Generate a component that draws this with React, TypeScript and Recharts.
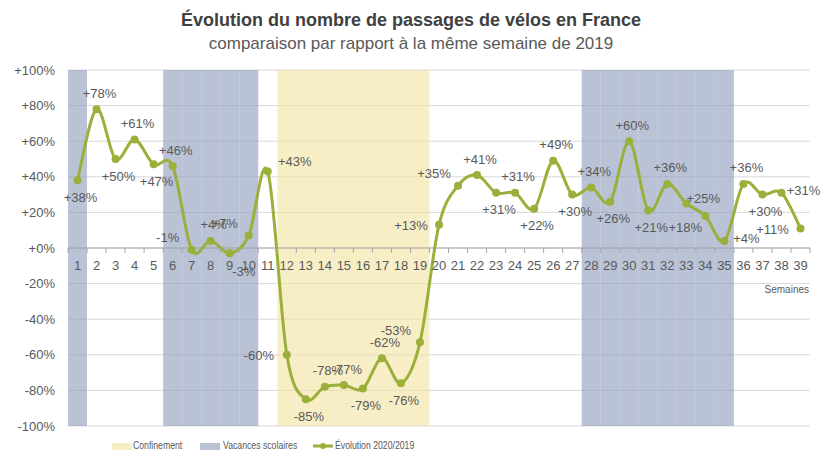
import React from "react";
import {
  Bar,
  CartesianGrid,
  ComposedChart,
  LabelList,
  Line,
  ReferenceLine,
  XAxis,
  YAxis,
} from "recharts";

const weeks = ["1", "2", "3", "4", "5", "6", "7", "8", "9", "10", "11", "12", "13", "14", "15", "16", "17", "18", "19", "20",
  "21", "22", "23", "24", "25", "26", "27", "28", "29", "30", "31", "32", "33", "34", "35", "36", "37", "38", "39"];

const evolution = [38, 78, 50, 61, 47, 46, -1, 4, -3, 7, 43, -60, -85, -78, -77, -79, -62, -76, -53, 13,
  35, 41, 31, 31, 22, 49, 30, 34, 26, 60, 21, 36, 25, 18, 4, 36, 30, 31, 11];

const confinementWeeks = ["12", "13", "14", "15", "16", "17", "18", "19"];
const vacancesWeeks = ["1", "6", "7", "8", "9", "10", "28", "29", "30", "31", "32", "33", "34", "35"];

const yTicks = [-100, -80, -60, -40, -20, 0, 20, 40, 60, 80, 100];

// where each data label sits around its point
const labelPlacement = ["b", "t", "b", "t", "b", "t", "tl", "t", "br", "tl", "rt", "l", "b", "t", "t", "b", "t", "b", "tl", "l",
  "tl", "t", "b", "t", "b", "t", "b", "t", "b", "t", "b", "t", "rs", "bl", "r", "t", "b", "r", "l"];

const W = 822;
const H = 452;
const MARGIN = { top: 70, right: 12, bottom: 25, left: 0 };
const Y_AXIS_W = 68;
const PLOT_H = H - MARGIN.top - MARGIN.bottom - 1;
const BAND = (W - MARGIN.right - Y_AXIS_W) / weeks.length;

const GREEN = "#9BAF3B";
const BLUE = "#8C9BBB";
const YELLOW = "#F2E3A0";
const TEXT = "#595959";
const FONT = "'Liberation Sans', Arial, sans-serif";

const data = weeks.map((w, i) => ({
  week: w,
  evolution: evolution[i],
  conf: confinementWeeks.includes(w) ? 1 : 0,
  vac: vacancesWeeks.includes(w) ? 1 : 0,
}));

// Excel-like smoothed line (cardinal spline, tension 0)
function excelCurve(context: any) {
  let pts: number[][] = [];
  return {
    areaStart() {},
    areaEnd() {},
    lineStart() {
      pts = [];
    },
    point(x: number, y: number) {
      pts.push([+x, +y]);
    },
    lineEnd() {
      if (!pts.length) return;
      context.moveTo(pts[0][0], pts[0][1]);
      for (let i = 0; i < pts.length - 1; i++) {
        const p0 = pts[Math.max(0, i - 1)];
        const p1 = pts[i];
        const p2 = pts[i + 1];
        const p3 = pts[Math.min(pts.length - 1, i + 2)];
        context.bezierCurveTo(
          p1[0] + (p2[0] - p0[0]) / 6,
          p1[1] + (p2[1] - p0[1]) / 6,
          p2[0] - (p3[0] - p1[0]) / 6,
          p2[1] - (p3[1] - p1[1]) / 6,
          p2[0],
          p2[1]
        );
      }
    },
  };
}

const offsets: Record<string, [number, number]> = {
  t: [3, -16],
  b: [3, 17],
  l: [-28, 1],
  r: [22, -2],
  rt: [27, -10],
  rs: [17, -5],
  tl: [-24, -12],
  br: [14, 18],
  bl: [-20, 12],
};

const fmt = (v: number) => (v >= 0 ? `+${v}%` : `${v}%`);

function PointLabel(props: any) {
  const { x, y, value, index } = props;
  const [dx, dy] = offsets[labelPlacement[index]] || [0, -16];
  return (
    <text
      x={x + dx}
      y={y + dy}
      textAnchor="middle"
      dominantBaseline="central"
      fontSize={13}
      fontFamily={FONT}
      fill={TEXT}
    >
      {fmt(value)}
    </text>
  );
}

function WeekTick(props: any) {
  const { x, y, payload, index } = props;
  const zeroY = y - PLOT_H / 2;
  const last = index === weeks.length - 1;
  return (
    <g>
      <line x1={x - BAND / 2} x2={x - BAND / 2} y1={zeroY} y2={zeroY + 5} stroke="#A6A6A6" />
      {last && <line x1={x + BAND / 2} x2={x + BAND / 2} y1={zeroY} y2={zeroY + 5} stroke="#A6A6A6" />}
      <text x={x} y={zeroY + 17} textAnchor="middle" dominantBaseline="central" fontSize={13} fontFamily={FONT} fill={TEXT}>
        {payload.value}
      </text>
    </g>
  );
}

const legendText: React.CSSProperties = {
  position: "absolute",
  top: 439,
  fontSize: 11,
  color: TEXT,
  whiteSpace: "nowrap",
  transform: "scaleX(0.79)",
  transformOrigin: "left center",
};

export default function App() {
  return (
    <div style={{ position: "absolute", left: 0, top: 0, width: W, height: H, background: "#fff", fontFamily: FONT }}>
      <div style={{ position: "absolute", left: 0, top: 10, width: W, textAlign: "center", fontSize: 18, fontWeight: "bold", color: "#404040" }}>
        Évolution du nombre de passages de vélos en France
      </div>
      <div style={{ position: "absolute", left: 0, top: 34, width: W, textAlign: "center", fontSize: 17, color: TEXT }}>
        comparaison par rapport à la même semaine de 2019
      </div>
      <ComposedChart width={W} height={H} data={data} margin={MARGIN} barCategoryGap={0} barGap={0}>
        <CartesianGrid yAxisId="pct" vertical={false} stroke="#D9D9D9" />
        <YAxis
          yAxisId="pct"
          width={Y_AXIS_W}
          domain={[-100, 100]}
          ticks={yTicks}
          interval={0}
          tickFormatter={fmt}
          axisLine={false}
          tickLine={false}
          tickMargin={7}
          tick={{ fontSize: 13, fill: TEXT, fontFamily: FONT }}
        />
        <YAxis yAxisId="band" orientation="right" hide domain={[0, 1]} />
        <XAxis
          dataKey="week"
          height={1}
          interval={0}
          axisLine={false}
          tickLine={false}
          tickSize={0}
          tickMargin={0}
          tick={<WeekTick />}
        />
        <Bar yAxisId="band" dataKey="conf" name="Confinement" stackId="s" fill={YELLOW} fillOpacity={0.6} isAnimationActive={false} />
        <Bar yAxisId="band" dataKey="vac" name="Vacances scolaires" stackId="s" fill={BLUE} fillOpacity={0.6} isAnimationActive={false} />
        <ReferenceLine yAxisId="pct" y={0} stroke="#A6A6A6" />
        <Line
          yAxisId="pct"
          dataKey="evolution"
          name="Évolution 2020/2019"
          type={excelCurve as any}
          stroke={GREEN}
          strokeWidth={3}
          dot={{ r: 4, fill: GREEN, stroke: "none" }}
          isAnimationActive={false}
        >
          <LabelList dataKey="evolution" content={<PointLabel />} />
        </Line>
      </ComposedChart>
      <div style={{ position: "absolute", right: 13, top: 284, fontSize: 10, color: TEXT }}>Semaines</div>
      <span style={{ position: "absolute", left: 112, top: 443, width: 20, height: 7, background: "#F7EEC6" }} />
      <span style={{ ...legendText, left: 133 }}>Confinement</span>
      <span style={{ position: "absolute", left: 200, top: 443, width: 20, height: 7, background: "#BAC3D6" }} />
      <span style={{ ...legendText, left: 223 }}>Vacances scolaires</span>
      <svg width={20} height={8} style={{ position: "absolute", left: 313, top: 442 }}>
        <line x1={0} x2={20} y1={4} y2={4} stroke={GREEN} strokeWidth={3} />
        <circle cx={10} cy={4} r={3} fill={GREEN} />
      </svg>
      <span style={{ ...legendText, left: 335 }}>Évolution 2020/2019</span>
    </div>
  );
}
